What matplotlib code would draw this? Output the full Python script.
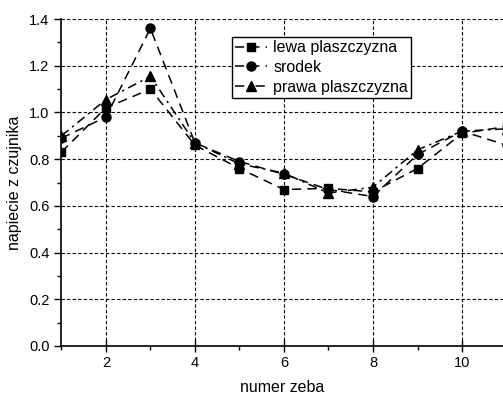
import matplotlib.pyplot as plt
from matplotlib.ticker import MultipleLocator, FormatStrFormatter

plt.rcParams['font.family'] = ['Liberation Sans', 'DejaVu Sans']

zeby = [1, 2, 3, 4, 5, 6, 7, 8, 9, 10, 11]
lewa = [0.83, 1.02, 1.10, 0.86, 0.76, 0.67, 0.675, 0.66, 0.76, 0.91, 0.94]
srodek = [0.89, 0.98, 1.36, 0.87, 0.79, 0.735, 0.67, 0.64, 0.82, 0.92, 0.86]
prawa = [0.90, 1.055, 1.155, 0.87, 0.78, 0.74, 0.655, 0.68, 0.84, 0.92, 0.93]

fig = plt.figure(figsize=(5.03, 3.97), dpi=100)
ax = fig.add_axes([0.122, 0.1285, 0.878, 0.8235])

ax.plot(zeby, lewa, color='black', lw=1.1, ls=(0, (6, 4)), marker='s', ms=6,
        label='lewa plaszczyzna')
ax.plot(zeby, srodek, color='black', lw=1.1, ls=(0, (6, 4)), marker='o', ms=6.5,
        label='srodek')
ax.plot(zeby, prawa, color='black', lw=1.1, ls=(0, (6, 3, 1.5, 3)), marker='^', ms=7,
        label='prawa plaszczyzna')

ax.set_xlim(1, 10.92)
ax.set_ylim(0, 1.4)
ax.xaxis.set_major_locator(MultipleLocator(2))
ax.xaxis.set_minor_locator(MultipleLocator(1))
ax.yaxis.set_major_locator(MultipleLocator(0.2))
ax.yaxis.set_minor_locator(MultipleLocator(0.1))
ax.yaxis.set_major_formatter(FormatStrFormatter('%.1f'))
ax.tick_params(which='major', direction='out', length=5, width=1, labelsize=10.5)
ax.tick_params(which='minor', direction='out', length=3, width=1)
ax.tick_params(axis='x', which='major', direction='inout', length=8)

for s in ['top', 'right']:
    ax.spines[s].set_visible(False)
for s in ['left', 'bottom']:
    ax.spines[s].set_linewidth(1.2)

ax.grid(True, which='major', color='black', ls=(0, (3, 2)), lw=0.8)

ax.set_xlabel('numer zeba', fontsize=11.5, labelpad=7)
ax.set_ylabel('napiecie z czujnika', fontsize=11.5, labelpad=5)

leg = ax.legend(loc='upper left', bbox_to_anchor=(0.386, 0.945), fontsize=11.5,
                frameon=True, fancybox=False, edgecolor='black', framealpha=1,
                handlelength=2.0, handletextpad=0.4, borderpad=0.2,
                labelspacing=0.3, borderaxespad=0)
leg.get_frame().set_linewidth(1.0)

fig.savefig('out.png', dpi=100)
